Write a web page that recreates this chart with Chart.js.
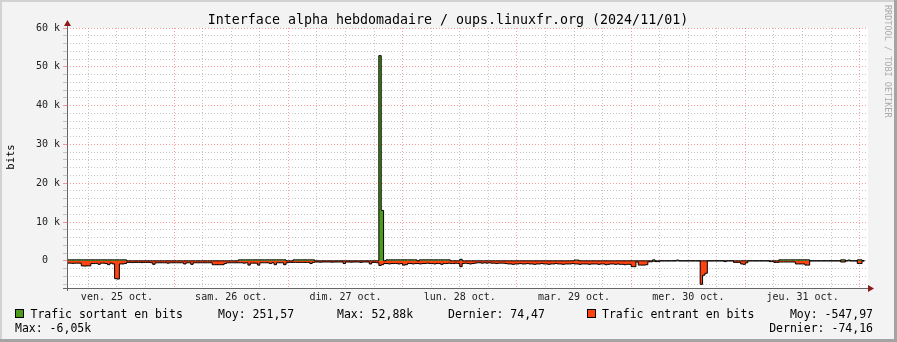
<!DOCTYPE html>
<html lang="fr">
<head>
<meta charset="utf-8">
<title>Interface alpha hebdomadaire</title>
<script src="https://cdn.jsdelivr.net/npm/chart.js@4.4.1/dist/chart.umd.min.js"></script>
<style>
  html, body { margin: 0; padding: 0; background: #f3f3f3; }
  canvas { display: block; }
</style>
</head>
<body>
<canvas id="graphe" width="897" height="342"></canvas>
<script>
// heures depuis ven. 25 oct. 00:00, un point toutes les 30 min à partir de 01:30
const debut = 1.5;
const pas = 0.5;
const fin = 169.75;

const jours = ['ven. 25 oct.', 'sam. 26 oct.', 'dim. 27 oct.', 'lun. 28 oct.', 'mar. 29 oct.', 'mer. 30 oct.', 'jeu. 31 oct.'];
const heuresGrille = [6, 12, 18, 24, 30, 36, 42, 48, 54, 60, 66, 72, 78, 84, 90, 96, 102, 108, 114, 120, 126, 132, 138, 144, 150, 156, 162, 168];
const valeursGrilleY = [-6000, -4000, -2000, 0, 2000, 4000, 6000, 8000, 10000, 12000, 14000, 16000, 18000, 20000, 22000, 24000, 26000, 28000, 30000, 32000, 34000, 36000, 38000, 40000, 42000, 44000, 46000, 48000, 50000, 52000, 54000, 56000, 58000, 60000];

// Trafic sortant (bits)
const sortant = [
  250,250,250,250,250,250,250,250,250,250, 250,250,250,250,250,250,250,250,250,250,
  250,250,250,250,250,0,0,0,0,0, 0,0,0,0,0,0,0,0,0,0, 0,0,0,0,0,0,0,0,
  0,0,0,0,0,0,0,0,0,0, 0,0,0,0,0,0,0,0,0,0, 0,0,0,0,250,250,250,250,250,250,
  250,250,250,250,250,250,250,250,250,250, 250,250,250,250,0,0,0,250,
  250,250,250,250,250,250,250,250,0,0, 0,0,0,0,0,0,0,0,0,0, 0,0,0,0,0,0,0,0,0,0,
  0,0,0,0,0,52880,13000,0,250,250, 250,250,250,250,250,250,250,250,
  250,250,250,0,250,250,250,250,250,250, 250,250,250,250,250,250,250,0,0,0,
  0,400,0,0,0,0,0,0,0,0, 0,0,0,0,0,0,0,0,0,0, 0,0,0,0,0,0,0,0,
  0,0,0,0,0,0,0,0,0,0, 0,0,0,0,0,0,0,0,0,0, 0,200,200,0,0,0,0,0,0,0,
  0,0,0,0,0,0,0,0,0,0, 0,0,0,0,0,0,0,0,
  0,0,0,0,0,0,250,0,0,0, 0,0,0,0,0,0,200,0,0,0, 0,0,0,0,0,0,0,0,0,0,
  0,0,0,0,0,0,0,0,0,0, 0,0,0,0,0,0,0,0,
  0,0,0,0,0,0,0,0,0,0, 0,250,250,250,250,250,250,250,250,250,
  250,250,250,250,0,0,0,0,0,0, 0,0,0,0,0,0,0,250,250,0, 200,0,0,0,250,250,74
];

// Trafic entrant (bits, négatif)
const entrant = [
  -600,-600,-650,-600,-600,-600,-1300,-1350,-1300,-1300,
  -700,-700,-650,-900,-600,-600,-700,-1000,-600,-800,
  -4600,-4700,-800,-800,-700,-400,-400,-450,-400,-400,
  -400,-450,-400,-400,-400,-500,-900,-500,-500,-500,
  -500,-500,-600,-500,-500,-500,-500,-500,
  -500,-800,-500,-500,-900,-500,-500,-500,-500,-500,
  -500,-500,-500,-1000,-1000,-1000,-1000,-1000,-700,-500,
  -500,-500,-500,-500,-500,-500,-600,-500,-1100,-600,
  -600,-600,-1100,-500,-500,-500,-500,-700,-500,-1000,
  -500,-500,-500,-1000,-500,-400,-400,-400,
  -400,-400,-400,-400,-400,-400,-700,-400,-300,-300,
  -350,-300,-300,-300,-300,-350,-300,-300,-300,-300,
  -700,-300,-300,-350,-300,-300,-300,-400,-300,-300,
  -300,-800,-400,-400,-500,-1200,-1000,-700,-700,-800,
  -700,-700,-700,-800,-700,-1100,-1000,-700,
  -700,-800,-700,-700,-800,-700,-700,-600,-700,-700,
  -800,-700,-700,-900,-700,-700,-600,-700,-700,-600,
  -700,-1500,-700,-600,-700,-800,-700,-600,-500,-500,
  -600,-500,-600,-500,-600,-600,-700,-600,-600,-600,
  -700,-800,-800,-900,-800,-800,-700,-800,
  -800,-700,-800,-800,-900,-800,-800,-700,-800,-800,
  -900,-800,-800,-700,-800,-800,-900,-800,-800,-800,
  -700,-800,-800,-900,-800,-800,-800,-900,-800,-800,
  -800,-900,-800,-800,-1000,-900,-800,-800,-900,-800,
  -900,-900,-1000,-900,-900,-1500,-1500,-300,
  -1100,-1100,-1100,-1000,-250,-250,-100,-200,-200,0,
  0,0,0,0,0,0,0,0,0,0,
  0,0,0,0,0,0,-6050,-3700,-3200,0,
  0,0,0,0,0,0,-200,0,0,0,
  -400,-400,-400,-800,-900,-500,0,0,
  0,0,0,0,0,0,0,-200,-200,-400,
  -400,-300,-300,-300,-300,-300,-300,-300,-800,-800,
  -800,-800,-1100,-1100,0,0,0,0,0,0,
  0,0,0,0,0,0,0,-300,-300,0,
  0,0,0,0,-700,-700,-74
];

const VERT = '#4e9a1c';
const ROUGE = '#ff4210';
const police = 'DejaVu Sans Mono';

// points en escalier : chaque valeur vaut pour sa demi-heure
function enPoints(valeurs) {
    const pts = valeurs.map((v, i) => ({ x: debut + i * pas, y: v }));
    pts.push({ x: debut + valeurs.length * pas, y: valeurs[valeurs.length - 1] });
    return pts;
}

const habillage = {
    id: 'habillage',
    beforeDraw(chart) {
        const { ctx, chartArea: a, width: W, height: H } = chart;
        ctx.save();
        ctx.fillStyle = '#f3f3f3';
        ctx.fillRect(0, 0, W, H);
        ctx.fillStyle = '#d2d2d2';
        ctx.fillRect(0, 0, W, 2);
        ctx.fillRect(0, 0, 2, H);
        ctx.fillStyle = '#a4a4a4';
        ctx.fillRect(0, H - 3, W, 3);
        ctx.fillRect(W - 3, 0, 3, H);
        ctx.fillStyle = '#ffffff';
        ctx.fillRect(a.left, a.top, a.right - a.left, a.bottom - a.top);
        ctx.restore();
    },
    afterDraw(chart) {
        const { ctx, chartArea: a } = chart;
        ctx.save();

        // axes
        ctx.strokeStyle = '#666';
        ctx.lineWidth = 1;
        ctx.beginPath();
        ctx.moveTo(a.left + 0.5, a.top - 3);
        ctx.lineTo(a.left + 0.5, a.bottom + 3);
        ctx.moveTo(a.left - 4, a.bottom + 0.5);
        ctx.lineTo(a.right + 1, a.bottom + 0.5);
        ctx.stroke();
        ctx.fillStyle = '#8b1a1a';
        ctx.beginPath();
        ctx.moveTo(a.left + 0.5, a.top - 8);
        ctx.lineTo(a.left - 3, a.top - 2);
        ctx.lineTo(a.left + 4, a.top - 2);
        ctx.closePath();
        ctx.fill();
        ctx.beginPath();
        ctx.moveTo(a.right + 6, a.bottom + 0.5);
        ctx.lineTo(a.right, a.bottom - 3);
        ctx.lineTo(a.right, a.bottom + 4);
        ctx.closePath();
        ctx.fill();

        // titre
        ctx.fillStyle = '#000';
        ctx.font = '13.3px "' + police + '"';
        ctx.textAlign = 'center';
        ctx.textBaseline = 'alphabetic';
        ctx.fillText('Interface alpha hebdomadaire / oups.linuxfr.org (2024/11/01)', 448, 24);

        // titre axe y
        ctx.save();
        ctx.translate(14, 157);
        ctx.rotate(-Math.PI / 2);
        ctx.font = '10.5px "' + police + '"';
        ctx.fillText('bits', 0, 0);
        ctx.restore();

        // signature
        ctx.save();
        ctx.translate(885, 5);
        ctx.rotate(Math.PI / 2);
        ctx.font = '8.5px "' + police + '"';
        ctx.fillStyle = '#aaaaaa';
        ctx.textAlign = 'left';
        ctx.fillText('RRDTOOL / TOBI OETIKER', 0, 0);
        ctx.restore();

        // légende
        ctx.font = '11.5px "' + police + '"';
        ctx.textAlign = 'left';
        const carre = (x, y, c) => {
            ctx.fillStyle = c;
            ctx.fillRect(x, y, 9, 9);
            ctx.strokeStyle = '#000';
            ctx.strokeRect(x + 0.5, y + 0.5, 8, 8);
        };
        carre(15, 309, VERT);
        carre(587, 309, ROUGE);
        ctx.fillStyle = '#000';
        ctx.fillText('Trafic sortant en bits', 30.5, 318);
        ctx.fillText('Moy: 251,57', 218, 318);
        ctx.fillText('Max: 52,88k', 337, 318);
        ctx.fillText('Dernier: 74,47', 448, 318);
        ctx.fillText('Trafic entrant en bits', 602, 318);
        ctx.fillText('Max: -6,05k', 15, 332);
        ctx.textAlign = 'right';
        ctx.fillText('Moy: -547,97', 873, 318);
        ctx.fillText('Dernier: -74,16', 873, 332);

        ctx.restore();
    }
};

const grilleMaj = 'rgba(255, 0, 0, 0.38)';
const grilleMin = '#c4c4c4';

new Chart(document.getElementById('graphe'), {
    type: 'line',
    data: {
        datasets: [
            { label: 'Trafic sortant en bits', data: enPoints(sortant), stepped: true, fill: 'origin',
              backgroundColor: VERT, borderColor: '#000', borderWidth: 1, pointRadius: 0 },
            { label: 'Trafic entrant en bits', data: enPoints(entrant), stepped: true, fill: 'origin',
              backgroundColor: ROUGE, borderColor: '#000', borderWidth: 1, pointRadius: 0 }
        ]
    },
    options: {
        responsive: false,
        animation: false,
        devicePixelRatio: 1,
        layout: { padding: { left: 0, top: 28, right: 29, bottom: 34 } },
        plugins: { legend: { display: false }, tooltip: { enabled: false }, title: { display: false } },
        scales: {
            x: {
                type: 'linear', min: debut, max: fin,
                afterBuildTicks: s => { s.ticks = heuresGrille.map(v => ({ value: v })); },
                afterFit: s => { s.height = 20; },
                ticks: {
                    autoSkip: false, maxRotation: 0, padding: 3, color: '#222',
                    font: { family: police, size: 10 },
                    callback: v => v % 24 === 12 ? jours[Math.floor(v / 24)] : ''
                },
                grid: {
                    drawTicks: false, lineWidth: 1,
                    color: c => c.tick && c.tick.value % 24 === 0 ? grilleMaj : grilleMin
                },
                border: { display: false, dash: [1, 2] }
            },
            y: {
                min: -7000, max: 60000,
                afterBuildTicks: s => { s.ticks = valeursGrilleY.map(v => ({ value: v })); },
                afterFit: s => { s.width = 67; },
                ticks: {
                    autoSkip: false, padding: 3, color: '#222',
                    font: { family: police, size: 10 },
                    callback: v => v % 10000 !== 0 ? '' : (v === 0 ? '0  ' : (v / 1000) + ' k')
                },
                grid: {
                    drawTicks: true, tickLength: 4, lineWidth: 1,
                    color: c => c.tick && c.tick.value % 10000 === 0 ? grilleMaj : grilleMin
                },
                border: { display: false, dash: [1, 2] }
            }
        }
    },
    plugins: [habillage]
});
</script>
</body>
</html>
